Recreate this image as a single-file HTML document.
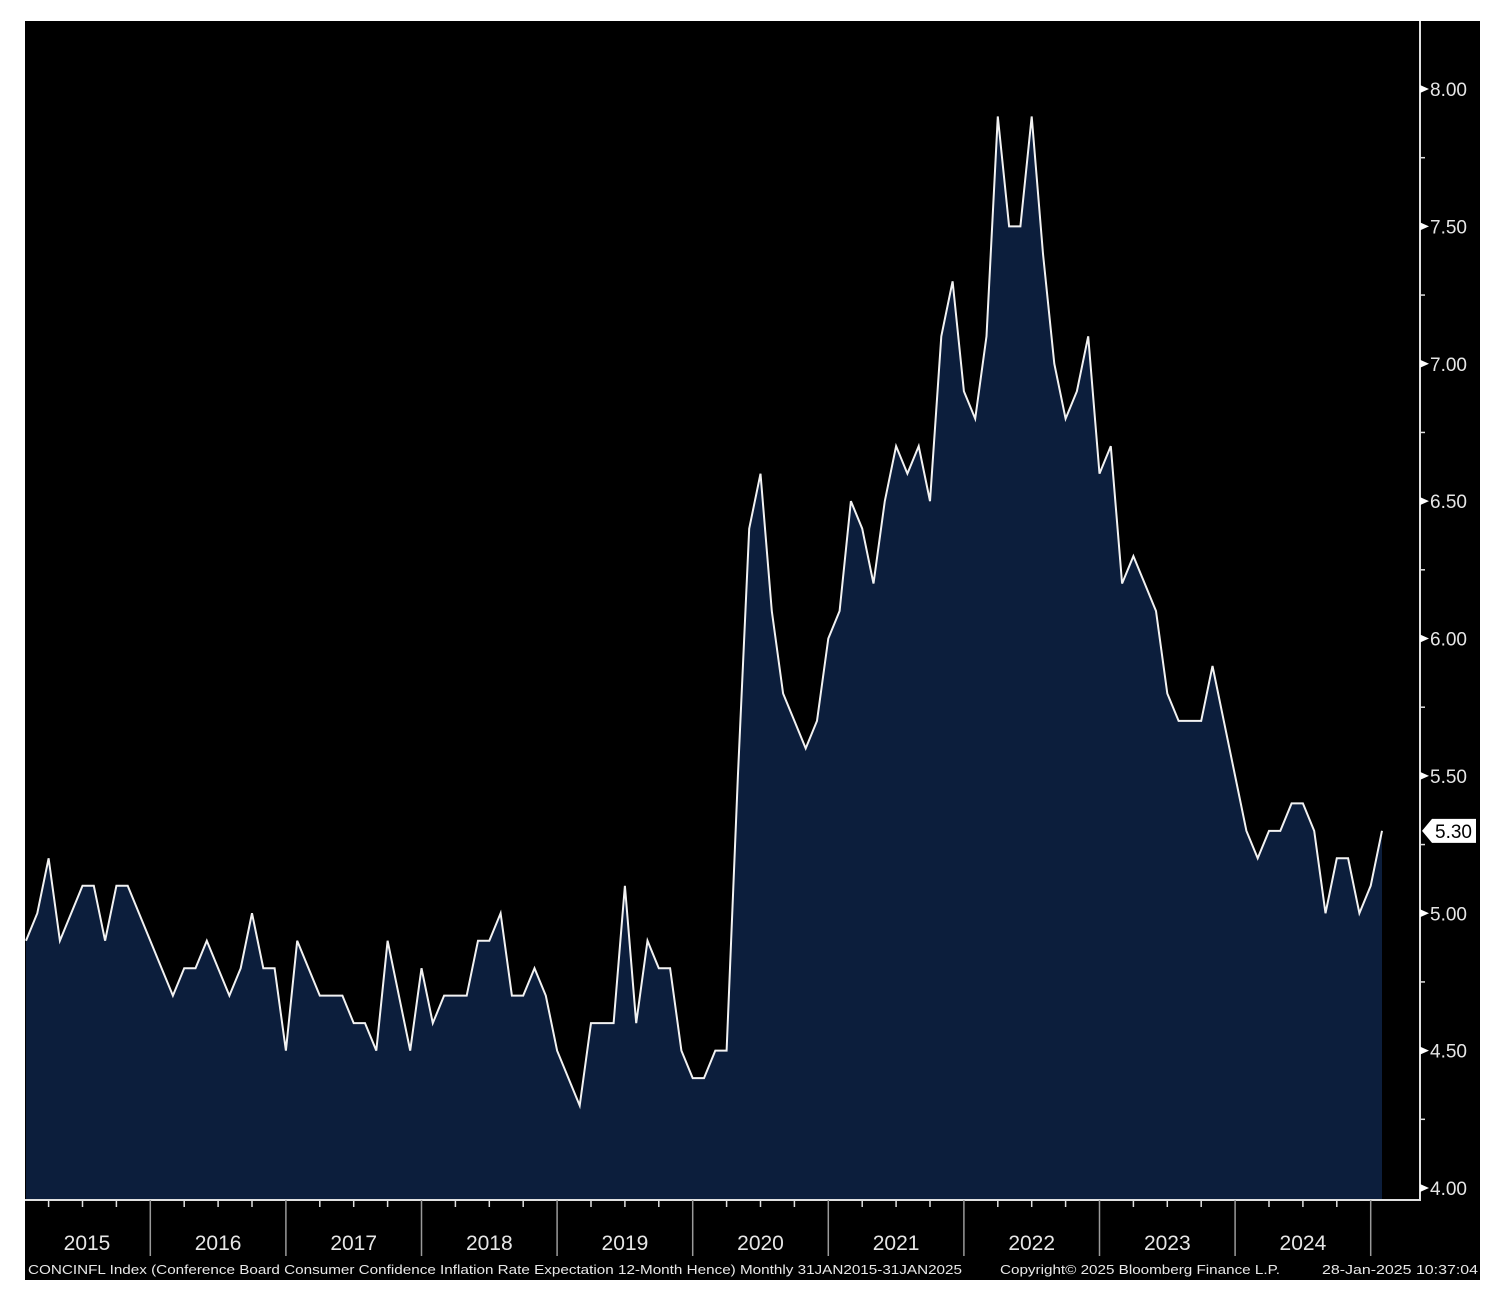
<!DOCTYPE html>
<html><head><meta charset="utf-8">
<style>
html,body{margin:0;padding:0;background:#fff;width:1504px;height:1306px;overflow:hidden}
svg{display:block;font-family:"Liberation Sans","DejaVu Sans",sans-serif}
</style></head>
<body>
<svg id="chart" width="1504" height="1306" viewBox="0 0 1504 1306" xmlns="http://www.w3.org/2000/svg">
  <rect x="25" y="21" width="1455" height="1259" fill="#000"/>
  <g id="plot"></g>
  <g id="yaxis"></g>
  <g id="xaxis"></g>
  <g fill="#e8e8e8" font-size="13">
    <text x="28" y="1274" textLength="934" lengthAdjust="spacingAndGlyphs">CONCINFL Index (Conference Board Consumer Confidence Inflation Rate Expectation 12-Month Hence)  Monthly 31JAN2015-31JAN2025</text>
    <text x="1000" y="1274" textLength="280" lengthAdjust="spacingAndGlyphs">Copyright© 2025 Bloomberg Finance L.P.</text>
    <text x="1322" y="1274" textLength="156" lengthAdjust="spacingAndGlyphs">28-Jan-2025 10:37:04</text>
  </g>
</svg>
<script>
const startYear = 2015;
const years = ["2015","2016","2017","2018","2019","2020","2021","2022","2023","2024"];
const values = [
4.9,5.0,5.2,4.9,5.0,5.1,5.1,4.9,5.1,5.1,5.0,4.9,
4.8,4.7,4.8,4.8,4.9,4.8,4.7,4.8,5.0,4.8,4.8,4.5,
4.9,4.8,4.7,4.7,4.7,4.6,4.6,4.5,4.9,4.7,4.5,4.8,
4.6,4.7,4.7,4.7,4.9,4.9,5.0,4.7,4.7,4.8,4.7,4.5,
4.4,4.3,4.6,4.6,4.6,5.1,4.6,4.9,4.8,4.8,4.5,4.4,
4.4,4.5,4.5,5.5,6.4,6.6,6.1,5.8,5.7,5.6,5.7,6.0,
6.1,6.5,6.4,6.2,6.5,6.7,6.6,6.7,6.5,7.1,7.3,6.9,
6.8,7.1,7.9,7.5,7.5,7.9,7.4,7.0,6.8,6.9,7.1,6.6,
6.7,6.2,6.3,6.2,6.1,5.8,5.7,5.7,5.7,5.9,5.7,5.5,
5.3,5.2,5.3,5.3,5.4,5.4,5.3,5.0,5.2,5.2,5.0,5.1,5.3];
const yTicks = [4.0,4.5,5.0,5.5,6.0,6.5,7.0,7.5,8.0];
const yMinorTicks = [4.25,4.75,5.25,5.75,6.25,6.75,7.25,7.75];

const NS = "http://www.w3.org/2000/svg";
const X0 = 26, X1 = 1382, N = values.length;
const step = (X1 - X0) / (N - 1);
const xOf = i => X0 + i * step;
const yOf = v => 1188 - (v - 4) * 274.75;
const AXIS_Y = 1200, AXIS_X = 1420;
function mk(tag, attrs, parent){const e=document.createElementNS(NS,tag);for(const k in attrs)e.setAttribute(k,attrs[k]);parent.appendChild(e);return e;}

const plot = document.getElementById('plot');
let pts = values.map((v,i)=>xOf(i).toFixed(2)+","+yOf(v).toFixed(2));
const area = mk('polygon',{points: xOf(0)+","+AXIS_Y+" "+pts.join(" ")+" "+xOf(N-1)+","+AXIS_Y, fill:"#0c1e3c"}, plot);


const line = mk('polyline',{points: pts.join(" "), fill:"none", stroke:"#f2f2f2", "stroke-width":"2", "stroke-linejoin":"miter"}, plot);



// y axis
const ya = document.getElementById('yaxis');
const yl = mk('line',{x1:AXIS_X,y1:21,x2:AXIS_X,y2:AXIS_Y,stroke:"#e0e0e0","stroke-width":"2"}, ya);


yTicks.forEach(t=>{
  const y = yOf(t);
  const tri = mk('polygon',{points:`${AXIS_X},${y-4} ${AXIS_X+9},${y} ${AXIS_X},${y+4}`,fill:"#fff"}, ya);
  
  
  const tx = mk('text',{x:AXIS_X+10,y:y+7,fill:"#e6e6e6","font-size":"19"}, ya);
  tx.textContent = t.toFixed(2);
  
  
});
yMinorTicks.forEach(t=>{
  const m = mk('line',{x1:AXIS_X,y1:yOf(t),x2:AXIS_X+5,y2:yOf(t),stroke:"#e0e0e0","stroke-width":"1.5"}, ya);
  
  
});
// last value label
const lastV = values[N-1], ly = yOf(lastV);
const tag = mk('polygon',{points:`${AXIS_X+2},${ly} ${AXIS_X+12},${ly-12} ${AXIS_X+56},${ly-12} ${AXIS_X+56},${ly+12} ${AXIS_X+12},${ly+12}`,fill:"#fff"}, ya);


const tagT = mk('text',{x:AXIS_X+15,y:ly+7,fill:"#000","font-size":"19"}, ya);
tagT.textContent = lastV.toFixed(2);



// x axis
const xa = document.getElementById('xaxis');
const xl = mk('line',{x1:25,y1:AXIS_Y,x2:AXIS_X+1,y2:AXIS_Y,stroke:"#e0e0e0","stroke-width":"2"}, xa);


for(let k=0;k<=years.length;k++){
  const sx = xOf(12*k) - step;
  if(k>0){
    const s = mk('line',{x1:sx,y1:AXIS_Y,x2:sx,y2:1256,stroke:"#9a9a9a","stroke-width":"1.5"}, xa);
    
    
  }
  if(k<years.length){
    for(let q=1;q<4;q++){
      const qx = sx + q*3*step;
      const m = mk('line',{x1:qx,y1:AXIS_Y,x2:qx,y2:AXIS_Y+7,stroke:"#e0e0e0","stroke-width":"1.5"}, xa);
      
      
    }
    const cx = k===0 ? 87 : sx + 6*step;
    const tx = mk('text',{x:cx,y:1250,fill:"#e6e6e6","font-size":"21","text-anchor":"middle"}, xa);
    tx.textContent = years[k];
    
    
  }
}
</script>
</body></html>
